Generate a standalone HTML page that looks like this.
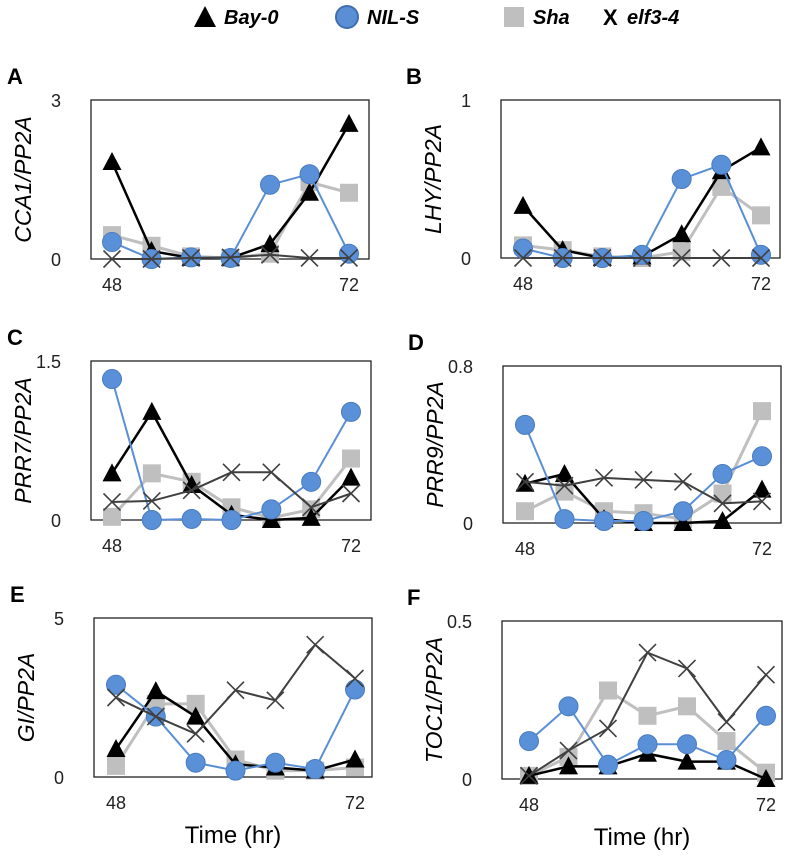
<!DOCTYPE html>
<html><head><meta charset="utf-8"><style>
body{margin:0;background:#fff;}
svg text{font-family:"Liberation Sans",sans-serif;}
</style></head><body>
<svg id="fig" width="786" height="851" xmlns="http://www.w3.org/2000/svg">
<g>
<polygon points="194,27 205,6 216,27" fill="#000"/>
<text x="224" y="24" font-size="20" font-weight="bold" font-style="italic">Bay-0</text>
<circle cx="347" cy="17" r="11" fill="#5a8fd6" stroke="#3f6fae" stroke-width="2"/>
<text x="367" y="24" font-size="20" font-weight="bold" font-style="italic">NIL-S</text>
<rect x="504" y="7" width="20" height="20" fill="#bfbfbf"/>
<text x="533" y="24" font-size="20" font-weight="bold" font-style="italic">Sha</text>
<text x="603" y="25" font-size="22" font-weight="bold">X</text>
<text x="627" y="24" font-size="20" font-weight="bold" font-style="italic">elf3-4</text>
</g>
</svg>
<script>
const times = [48,52,56,60,64,68,72];
const panelLetters = ["A","B","C","D","E","F"];
const panelTitles = ["CCA1/PP2A","LHY/PP2A","PRR7/PP2A","PRR9/PP2A","GI/PP2A","TOC1/PP2A"];
const panelMax = [3,1,1.5,0.8,5,0.5];
const panelMaxLabels = ["3","1","1.5","0.8","5","0.5"];
const bay0 = [
 [1.83,0.15,0.02,0.02,0.28,1.25,2.55],
 [0.33,0.05,0.0,0.01,0.15,0.55,0.7],
 [0.44,1.02,0.33,0.05,0.0,0.02,0.4],
 [0.2,0.25,0.02,0.0,0.0,0.01,0.17],
 [0.88,2.7,1.9,0.4,0.3,0.2,0.55],
 [0.01,0.04,0.04,0.08,0.055,0.055,0.0]];
const nils = [
 [0.32,0.0,0.03,0.02,1.4,1.6,0.1],
 [0.06,0.0,0.0,0.02,0.5,0.59,0.02],
 [1.33,0.0,0.01,0.0,0.1,0.36,1.02],
 [0.5,0.02,0.01,0.01,0.06,0.25,0.34],
 [2.9,1.9,0.45,0.2,0.45,0.25,2.75],
 [0.12,0.23,0.045,0.11,0.11,0.06,0.2]];
const sha = [
 [0.45,0.25,0.05,0.02,0.1,1.45,1.25],
 [0.08,0.05,0.01,0.0,0.04,0.45,0.27],
 [0.03,0.44,0.36,0.12,0.02,0.1,0.58],
 [0.06,0.16,0.06,0.05,0.02,0.15,0.57],
 [0.35,2.3,2.3,0.55,0.2,0.2,0.3],
 [0.01,0.07,0.28,0.2,0.23,0.12,0.02]];
const elf = [
 [0.0,0.0,0.02,0.03,0.08,0.02,0.02],
 [0,0,0,0,0,0,0],
 [0.17,0.18,0.28,0.45,0.45,0.12,0.25],
 [0.21,0.19,0.23,0.22,0.21,0.1,0.11],
 [2.5,1.9,1.36,2.73,2.41,4.16,3.1],
 [0.01,0.09,0.16,0.4,0.35,0.18,0.33]];
const geom = [
 {l:91,r:369,t:100,b:259,x0:112,x1:349},
 {l:501,r:780,t:100,b:258,x0:523,x1:761},
 {l:91,r:371,t:361,b:520,x0:112,x1:351},
 {l:503,r:781,t:366,b:523,x0:525,x1:762},
 {l:94,r:372,t:618,b:777,x0:116,x1:355},
 {l:502,r:782,t:621,b:779,x0:529,x1:766}];
const NS="http://www.w3.org/2000/svg";
const svg=document.getElementById('fig');
function mk(tag,attrs,parent){const e=document.createElementNS(NS,tag);for(const k in attrs)e.setAttribute(k,attrs[k]);(parent||svg).appendChild(e);return e;}
geom.forEach((g,p)=>{
 const grp=mk('g',{});
 
 
 const xs=t=>g.x0+(t-48)/24*(g.x1-g.x0);
 const ys=v=>g.b-v/panelMax[p]*(g.b-g.t);
 const box=mk('rect',{x:g.l,y:g.t,width:g.r-g.l,height:g.b-g.t,fill:'none',stroke:'#222','stroke-width':1.3},grp);
 
 
 const lt=mk('text',{x:p%2?g.l-95:g.l-84,y:g.t-16,'font-size':22,'font-weight':'bold'},grp);
 lt.textContent=panelLetters[p];
 
 
 const cy=(g.t+g.b)/2;
 const yt=mk('text',{x:0,y:0,'font-size':23,'font-style':'italic','text-anchor':'middle',transform:`translate(${g.l-60},${cy}) rotate(-90)`},grp);
 yt.textContent=panelTitles[p];
 
 
 const t0=mk('text',{x:g.l-30,y:g.b+7,'font-size':18,'text-anchor':'end',fill:'#222'},grp);
 t0.textContent='0';
 
 
 const t1=mk('text',{x:g.l-30,y:g.t+7,'font-size':18,'text-anchor':'end',fill:'#222'},grp);
 t1.textContent=panelMaxLabels[p];
 
 
 [[48,'48'],[72,'72']].forEach(([t,s])=>{
  const xl=mk('text',{x:xs(t),y:g.b+32,'font-size':18,'text-anchor':'middle',fill:'#222'},grp);
  xl.textContent=s;
  
  
 });
 if(p>=4){
  const xt=mk('text',{x:(g.l+g.r)/2,y:g.b+66,'font-size':24,'text-anchor':'middle'},grp);
  xt.textContent='Time (hr)';
  
  
 }
 const series=[
  {d:sha[p],c:'#bfbfbf',w:3,m:'sq',n:'sha'},
  {d:bay0[p],c:'#000',w:2.5,m:'tri',n:'bay0'},
  {d:nils[p],c:'#5a8fd6',w:2,m:'circ',n:'nils'},
  {d:elf[p],c:'#404040',w:2,m:'x',n:'elf34'}];
 series.forEach(s=>{
  const pts=s.d.map((v,i)=>[xs(times[i]),ys(v)]);
  const ln=mk('polyline',{points:pts.map(q=>q.join(',')).join(' '),fill:'none',stroke:s.c,'stroke-width':s.w},grp);
  
  
  pts.forEach(([x,y])=>{
   let e;
   if(s.m==='sq')e=mk('rect',{x:x-9,y:y-9,width:18,height:18,fill:'#bfbfbf'},grp);
   else if(s.m==='tri')e=mk('polygon',{points:`${x-9.5},${y+8} ${x},${y-10} ${x+9.5},${y+8}`,fill:'#000'},grp);
   else if(s.m==='circ')e=mk('circle',{cx:x,cy:y,r:9.5,fill:'#5a90d8',stroke:'#4a7cc0','stroke-width':1},grp);
   else e=mk('path',{d:`M${x-8.5},${y-8.5}L${x+8.5},${y+8.5}M${x-8.5},${y+8.5}L${x+8.5},${y-8.5}`,stroke:'#404040','stroke-width':1.6},grp);
   
   
  });
 });
});
</script>
</body></html>
